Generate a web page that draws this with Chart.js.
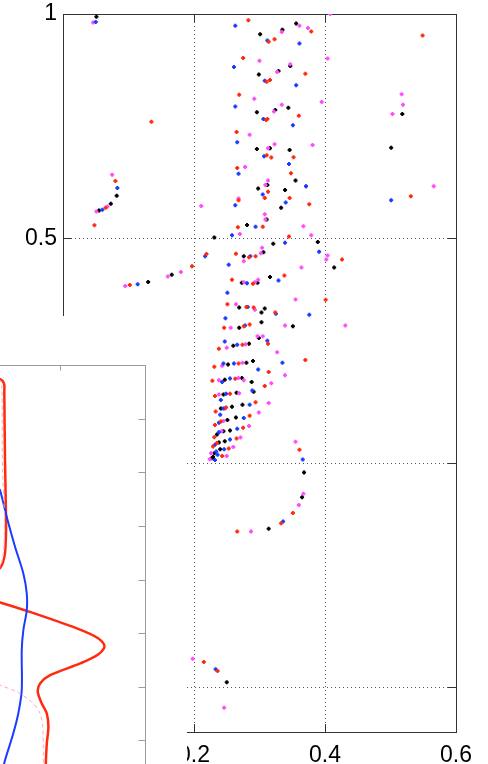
<!DOCTYPE html>
<html>
<head>
<meta charset="utf-8">
<script src="https://cdn.jsdelivr.net/npm/chart.js@4/dist/chart.umd.min.js"></script>
<style>
  html, body { margin: 0; padding: 0; background: #fff; overflow: hidden; }
  #wrap { position: relative; width: 488px; height: 764px; }
  #main { position: absolute; left: 0; top: 0; }
  #inset { position: absolute; left: 0; top: 316px; }
</style>
</head>
<body>
<div id="wrap">
  <canvas id="main" width="488" height="764"></canvas>
  <canvas id="inset" width="187" height="448"></canvas>
</div>
<script>
// ---- main scatter: tick positions ----
const xTicks = [0, 0.2, 0.4, 0.6];
const yTicks = [-0.5, 0, 0.5, 1];

// ---- main scatter: four series of [x, y] samples ----
const redPoints = [
  [0.283,0.986],[0.379,0.961],[0.323,0.944],[0.314,0.938],[0.275,0.902],[0.370,0.867],
  [0.316,0.853],[0.311,0.849],[0.269,0.820],[0.360,0.773],[0.312,0.766],[0.310,0.764],
  [0.265,0.737],[0.311,0.685],[0.318,0.680],[0.352,0.681],[0.266,0.657],[0.348,0.645],
  [0.313,0.604],[0.308,0.590],[0.346,0.590],[0.268,0.585],[0.376,0.576],[0.305,0.526],
  [0.267,0.525],[0.345,0.504],[0.264,0.466],[0.284,0.458],[0.294,0.460],[0.219,0.465],
  [0.426,0.453],[0.197,0.438],[0.338,0.417],[0.258,0.408],[0.290,0.399],[0.401,0.363],
  [0.251,0.353],[0.280,0.347],[0.291,0.346],[0.324,0.335],[0.285,0.308],[0.276,0.304],
  [0.246,0.301],[0.313,0.265],[0.274,0.263],[0.238,0.254],[0.370,0.229],[0.268,0.221],
  [0.231,0.214],[0.314,0.202],[0.263,0.187],[0.228,0.183],[0.308,0.171],[0.255,0.154],
  [0.232,0.149],[0.294,0.135],[0.249,0.123],[0.233,0.114],[0.285,0.105],[0.241,0.092],
  [0.232,0.084],[0.275,0.078],[0.231,0.057],[0.265,0.054],[0.235,0.044],[0.229,0.036],
  [0.253,0.032],[0.361,0.029],[0.243,0.015],[0.351,-0.112],[0.333,-0.135],[0.266,-0.153],
  [0.215,-0.444],[0.236,-0.464],[0.549,0.952],[0.531,0.594],[0.135,0.760],[0.080,0.628],
  [0.065,0.568],[0.048,0.529],[0.102,0.396]
];
const bluePoints = [
  [0.263,0.974],[0.312,0.941],[0.361,0.934],[0.261,0.882],[0.308,0.851],[0.356,0.841],
  [0.263,0.794],[0.306,0.766],[0.351,0.752],[0.266,0.714],[0.307,0.683],[0.345,0.666],
  [0.268,0.644],[0.371,0.616],[0.305,0.598],[0.340,0.580],[0.263,0.574],[0.294,0.526],
  [0.258,0.507],[0.339,0.490],[0.391,0.470],[0.286,0.460],[0.217,0.460],[0.253,0.441],
  [0.329,0.406],[0.281,0.400],[0.251,0.379],[0.282,0.347],[0.325,0.332],[0.376,0.330],
  [0.248,0.322],[0.278,0.306],[0.312,0.272],[0.247,0.270],[0.266,0.263],[0.261,0.221],
  [0.245,0.221],[0.335,0.223],[0.298,0.208],[0.255,0.188],[0.243,0.180],[0.289,0.161],
  [0.249,0.154],[0.241,0.140],[0.285,0.129],[0.245,0.121],[0.240,0.107],[0.276,0.100],
  [0.238,0.089],[0.266,0.076],[0.238,0.068],[0.255,0.052],[0.232,0.040],[0.246,0.030],
  [0.234,0.025],[0.236,0.018],[0.232,0.006],[0.366,0.007],[0.336,-0.131],[0.233,-0.460],
  [0.501,0.585],[0.050,0.982],[0.083,0.612],[0.060,0.564],[0.114,0.398]
];
const blackPoints = [
  [0.356,0.979],[0.335,0.965],[0.301,0.955],[0.347,0.884],[0.329,0.873],[0.299,0.865],
  [0.344,0.791],[0.324,0.786],[0.296,0.781],[0.296,0.699],[0.316,0.701],[0.346,0.697],
  [0.355,0.629],[0.312,0.619],[0.298,0.611],[0.339,0.608],[0.333,0.568],[0.311,0.542],
  [0.281,0.530],[0.231,0.502],[0.389,0.492],[0.321,0.488],[0.306,0.469],[0.276,0.460],
  [0.414,0.435],[0.316,0.414],[0.273,0.401],[0.297,0.401],[0.269,0.346],[0.308,0.344],
  [0.303,0.335],[0.303,0.313],[0.269,0.301],[0.351,0.304],[0.299,0.278],[0.284,0.265],
  [0.260,0.261],[0.290,0.227],[0.280,0.223],[0.252,0.219],[0.273,0.189],[0.247,0.185],
  [0.288,0.180],[0.291,0.158],[0.265,0.156],[0.245,0.152],[0.274,0.129],[0.258,0.125],
  [0.241,0.121],[0.264,0.101],[0.251,0.095],[0.255,0.072],[0.245,0.070],[0.235,0.063],
  [0.247,0.048],[0.238,0.045],[0.240,0.030],[0.231,0.021],[0.229,0.013],[0.227,0.010],
  [0.368,-0.022],[0.365,-0.077],[0.314,-0.147],[0.250,-0.489],[0.518,0.777],[0.501,0.702],
  [0.051,0.994],[0.082,0.595],[0.073,0.577],[0.055,0.562],[0.166,0.419],[0.130,0.403]
];
const magentaPoints = [
  [0.408,1.000],[0.361,0.974],[0.374,0.969],[0.334,0.960],[0.300,0.896],[0.404,0.901],
  [0.347,0.888],[0.327,0.871],[0.292,0.811],[0.395,0.804],[0.334,0.798],[0.322,0.783],
  [0.285,0.731],[0.323,0.710],[0.381,0.708],[0.313,0.701],[0.278,0.659],[0.313,0.629],
  [0.309,0.619],[0.371,0.616],[0.268,0.589],[0.211,0.572],[0.308,0.554],[0.309,0.542],
  [0.367,0.527],[0.270,0.510],[0.379,0.507],[0.304,0.479],[0.302,0.467],[0.404,0.462],
  [0.402,0.453],[0.276,0.449],[0.364,0.435],[0.298,0.408],[0.276,0.402],[0.293,0.402],
  [0.355,0.364],[0.264,0.353],[0.293,0.341],[0.256,0.301],[0.339,0.306],[0.431,0.306],
  [0.297,0.282],[0.305,0.282],[0.279,0.264],[0.250,0.256],[0.327,0.246],[0.274,0.223],
  [0.243,0.216],[0.339,0.195],[0.268,0.189],[0.238,0.184],[0.276,0.184],[0.318,0.177],
  [0.269,0.155],[0.238,0.152],[0.314,0.133],[0.247,0.121],[0.299,0.112],[0.245,0.093],
  [0.284,0.082],[0.242,0.070],[0.271,0.056],[0.355,0.047],[0.260,0.035],[0.226,0.021],
  [0.250,0.015],[0.224,0.008],[0.367,-0.069],[0.360,-0.094],[0.287,-0.153],[0.198,-0.437],
  [0.246,-0.546],[0.517,0.821],[0.519,0.798],[0.503,0.777],[0.566,0.616],[0.046,0.981],
  [0.075,0.642],[0.068,0.571],[0.051,0.560],[0.180,0.425],[0.160,0.415],[0.095,0.394]
];

// ---- inset profile panel ----
const insetXTicks = [0];
const insetYTicks = [0, 1, 2, 3, 4, 5, 6, 7];
const insetRedLoop = [
  [-0.62,0.25],[-0.60,0.261],[-0.573,0.299],[-0.557,0.373],[-0.557,0.522],[-0.55,1.772],
  [-0.54,2.836],[-0.54,3.134],[-0.55,3.507],[-0.573,3.694],[-0.60,3.787],[-0.62,3.80]
];
const insetRedLoopDashed = [
  [-0.62,0.27],[-0.60,0.28],[-0.583,0.405],[-0.578,1.0],[-0.575,1.96],[-0.555,2.8],
  [-0.555,3.1],[-0.565,3.5],[-0.585,3.69],[-0.60,3.77]
];
const insetBlue = [
  [-0.62,2.30],[-0.60,2.332],[-0.533,2.830],[-0.45,3.390],[-0.367,3.886],[-0.333,4.259],
  [-0.333,4.571],[-0.367,4.944],[-0.383,5.317],[-0.383,6.063],[-0.417,6.493],
  [-0.467,6.866],[-0.55,7.369],[-0.57,7.52]
];
const insetRed = [
  [-0.62,4.42],[-0.60,4.427],[-0.333,4.584],[0.167,4.912],[0.383,5.099],[0.443,5.243],
  [0.383,5.392],[0.20,5.565],[-0.10,5.784],[-0.20,5.938],[-0.223,6.095],[-0.183,6.312],
  [-0.133,6.498],[-0.117,6.748],[-0.133,7.058],[-0.143,7.431],[-0.145,7.56]
];
const insetRedDashed = [
  [-0.62,5.96],[-0.60,5.970],[-0.433,6.095],[-0.283,6.282],[-0.20,6.498],[-0.173,6.748],
  [-0.167,7.431],[-0.167,7.56]
];

const FONT = "'Liberation Sans', Arial, sans-serif";
const toXY = arr => arr.map(p => ({ x: p[0], y: p[1] }));

// Dotted grid, box outline and inward tick marks for the main axes
const mainFrame = {
  id: 'mainFrame',
  beforeDatasetsDraw(chart) {
    const { ctx, chartArea: a, scales: { x, y } } = chart;
    ctx.save();
    ctx.strokeStyle = '#555';
    ctx.lineWidth = 1;
    ctx.setLineDash([1, 3]);
    xTicks.forEach(v => {
      const px = Math.round(x.getPixelForValue(v)) + 0.5;
      if (px <= a.left + 1 || px >= a.right - 1) return;
      ctx.beginPath(); ctx.moveTo(px, a.top); ctx.lineTo(px, a.bottom); ctx.stroke();
    });
    yTicks.forEach(v => {
      const py = Math.round(y.getPixelForValue(v)) + 0.5;
      if (py <= a.top + 1 || py >= a.bottom - 1) return;
      ctx.beginPath(); ctx.moveTo(a.left, py); ctx.lineTo(a.right, py); ctx.stroke();
    });
    ctx.setLineDash([]);
    ctx.strokeStyle = '#333';
    ctx.strokeRect(Math.round(a.left) + 0.5, Math.round(a.top) + 0.5,
                   Math.round(a.right - a.left), Math.round(a.bottom - a.top));
    const L = 8;
    ctx.beginPath();
    xTicks.forEach(v => {
      const px = Math.round(x.getPixelForValue(v)) + 0.5;
      ctx.moveTo(px, a.bottom); ctx.lineTo(px, a.bottom - L);
      ctx.moveTo(px, a.top); ctx.lineTo(px, a.top + L);
    });
    yTicks.forEach(v => {
      const py = Math.round(y.getPixelForValue(v)) + 0.5;
      ctx.moveTo(a.left, py); ctx.lineTo(a.left + L, py);
      ctx.moveTo(a.right, py); ctx.lineTo(a.right - L, py);
    });
    ctx.stroke();
    ctx.restore();
  }
};

const series = [
  { label: 'red', data: redPoints, color: '#ff2a10' },
  { label: 'blue', data: bluePoints, color: '#1a3cff' },
  { label: 'magenta', data: magentaPoints, color: '#ff4cff' },
  { label: 'black', data: blackPoints, color: '#000000' }
];

new Chart(document.getElementById('main'), {
  type: 'scatter',
  data: {
    datasets: series.map(s => ({
      label: s.label,
      data: toXY(s.data),
      pointStyle: 'cross',
      pointRadius: 2,
      pointBorderWidth: 2,
      borderColor: s.color,
      backgroundColor: s.color
    }))
  },
  options: {
    responsive: false,
    animation: false,
    layout: { padding: { left: 0, top: 14, right: 32, bottom: 0 } },
    plugins: { legend: { display: false }, tooltip: { enabled: false } },
    scales: {
      x: {
        type: 'linear', min: 0, max: 0.6,
        afterBuildTicks: s => { s.ticks = xTicks.map(v => ({ value: v })); },
        afterFit: s => { s.height = 32; },
        grid: { display: false, drawTicks: false },
        border: { display: false },
        ticks: {
          padding: 10, color: '#000', maxRotation: 0,
          font: { family: FONT, size: 23 },
          callback: v => String(v)
        }
      },
      y: {
        type: 'linear', min: -0.6, max: 1,
        afterBuildTicks: s => { s.ticks = yTicks.map(v => ({ value: v })); },
        afterFit: s => { s.width = 63; },
        grid: { display: false, drawTicks: false },
        border: { display: false },
        ticks: {
          padding: 6, color: '#000',
          font: { family: FONT, size: 23, lineHeight: 0.6 },
          callback: v => String(v)
        }
      }
    }
  },
  plugins: [mainFrame]
});

// White backing plus the inset's partial box and inward ticks
const insetFrame = {
  id: 'insetFrame',
  beforeDraw(chart) {
    const { ctx, width, height } = chart;
    ctx.save();
    ctx.fillStyle = '#fff';
    ctx.fillRect(0, 0, width, height);
    ctx.restore();
  },
  afterDraw(chart) {
    const { ctx, chartArea: a, scales: { x, y } } = chart;
    ctx.save();
    ctx.strokeStyle = '#9a9a9a';
    ctx.lineWidth = 1;
    const top = Math.round(a.top) + 0.5, right = Math.round(a.right) - 0.5;
    ctx.beginPath();
    ctx.moveTo(0, top); ctx.lineTo(right, top); ctx.lineTo(right, a.bottom);
    insetYTicks.forEach(v => {
      const py = Math.round(y.getPixelForValue(v)) + 0.5;
      ctx.moveTo(right, py); ctx.lineTo(right - 7, py);
    });
    insetXTicks.forEach(v => {
      const px = Math.round(x.getPixelForValue(v)) + 0.5;
      ctx.moveTo(px, top); ctx.lineTo(px, top + 5);
    });
    ctx.stroke();
    ctx.restore();
  }
};

const lineSet = (data, color, width, dash) => ({
  data: toXY(data),
  showLine: true,
  pointRadius: 0,
  borderColor: color,
  borderWidth: width,
  borderDash: dash || [],
  tension: 0.3,
  fill: false
});

new Chart(document.getElementById('inset'), {
  type: 'scatter',
  data: {
    datasets: [
      lineSet(insetRedLoopDashed, '#ffaaaa', 1, [4, 3]),
      lineSet(insetRedDashed, '#ffaaaa', 1, [4, 3]),
      lineSet(insetBlue, '#1a3cff', 2),
      lineSet(insetRedLoop, '#ff2a10', 2.5),
      lineSet(insetRed, '#ff2a10', 2.5)
    ]
  },
  options: {
    responsive: false,
    animation: false,
    layout: { padding: { left: 0, top: 49, right: 41, bottom: 0 } },
    plugins: { legend: { display: false }, tooltip: { enabled: false } },
    scales: {
      x: { type: 'linear', display: false, min: -0.6, max: 0.857 },
      y: { type: 'linear', display: false, reverse: true, min: 0, max: 7.44 }
    }
  },
  plugins: [insetFrame]
});
</script>
</body>
</html>
